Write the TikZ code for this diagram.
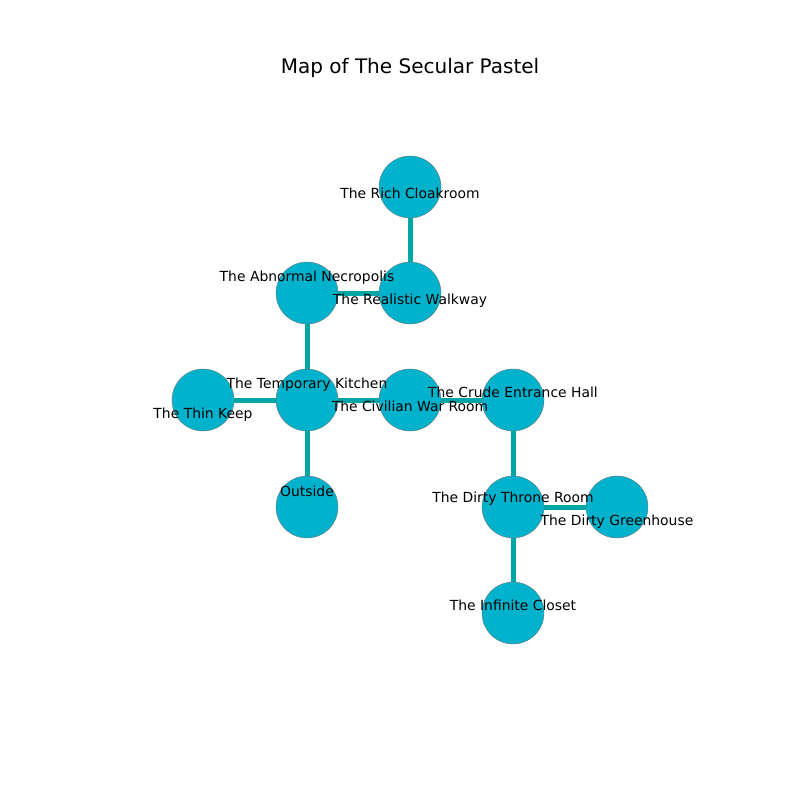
\documentclass[tikz,border=0pt]{standalone}
\usepackage{fontspec}
\setmainfont{DejaVu Sans}
\usetikzlibrary{backgrounds}
\begin{document}
\begin{tikzpicture}[x=1pt,y=-1pt,
  room/.style={circle,draw=black!55,line width=0.4pt,fill=roomfill,minimum size=62pt,inner sep=0pt},
  lbl/.style={font=\fontsize{13.9}{13.9}\selectfont,text=black,inner sep=0pt,anchor=center,yshift=-2pt},
  link/.style={draw=linkcol,line width=5pt}]
\definecolor{roomfill}{RGB}{0,178,204}
\definecolor{linkcol}{RGB}{0,166,166}
\useasboundingbox (0,0) rectangle (800,800);
\node[font=\fontsize{20}{20}\selectfont] (title) at (410,68) {Map of The Secular Pastel};
% nodes
\node[room] (rich) at (410,187) {};
\node[room] (walk) at (410,293) {};
\node[room] (necro) at (307,293) {};
\node[room] (kitchen) at (307,400) {};
\node[room] (thin) at (203,400) {};
\node[room] (war) at (410,400) {};
\node[room] (crude) at (513,400) {};
\node[room] (outside) at (307,507) {};
\node[room] (throne) at (513,507) {};
\node[room] (green) at (617,507) {};
\node[room] (closet) at (513,613) {};
% links
\begin{scope}[on background layer]
\draw[link] (rich.center) -- (walk.center);
\draw[link] (walk.center) -- (necro.center);
\draw[link] (necro.center) -- (kitchen.center);
\draw[link] (kitchen.center) -- (thin.center);
\draw[link] (kitchen.center) -- (war.center);
\draw[link] (kitchen.center) -- (outside.center);
\draw[link] (war.center) -- (crude.center);
\draw[link] (crude.center) -- (throne.center);
\draw[link] (throne.center) -- (green.center);
\draw[link] (throne.center) -- (closet.center);
\end{scope}
% labels
\node[lbl] (lrich) at (410,191) {The Rich Cloakroom};
\node[lbl] (lwalk) at (410,298.5) {The Realistic Walkway};
\node[lbl] (lnecro) at (307,276) {The Abnormal Necropolis};
\node[lbl] (lkitchen) at (307,383) {The Temporary Kitchen};
\node[lbl] (lthin) at (203,413) {The Thin Keep};
\node[lbl] (lwar) at (410,404.5) {The Civilian War Room};
\node[lbl] (lcrude) at (513,390) {The Crude Entrance Hall};
\node[lbl] (loutside) at (307,489.5) {Outside};
\node[lbl] (lthrone) at (513,497) {The Dirty Throne Room};
\node[lbl] (lgreen) at (617,520) {The Dirty Greenhouse};
\node[lbl] (lcloset) at (513,603.5) {The Infinite Closet};
\end{tikzpicture}
\end{document}
